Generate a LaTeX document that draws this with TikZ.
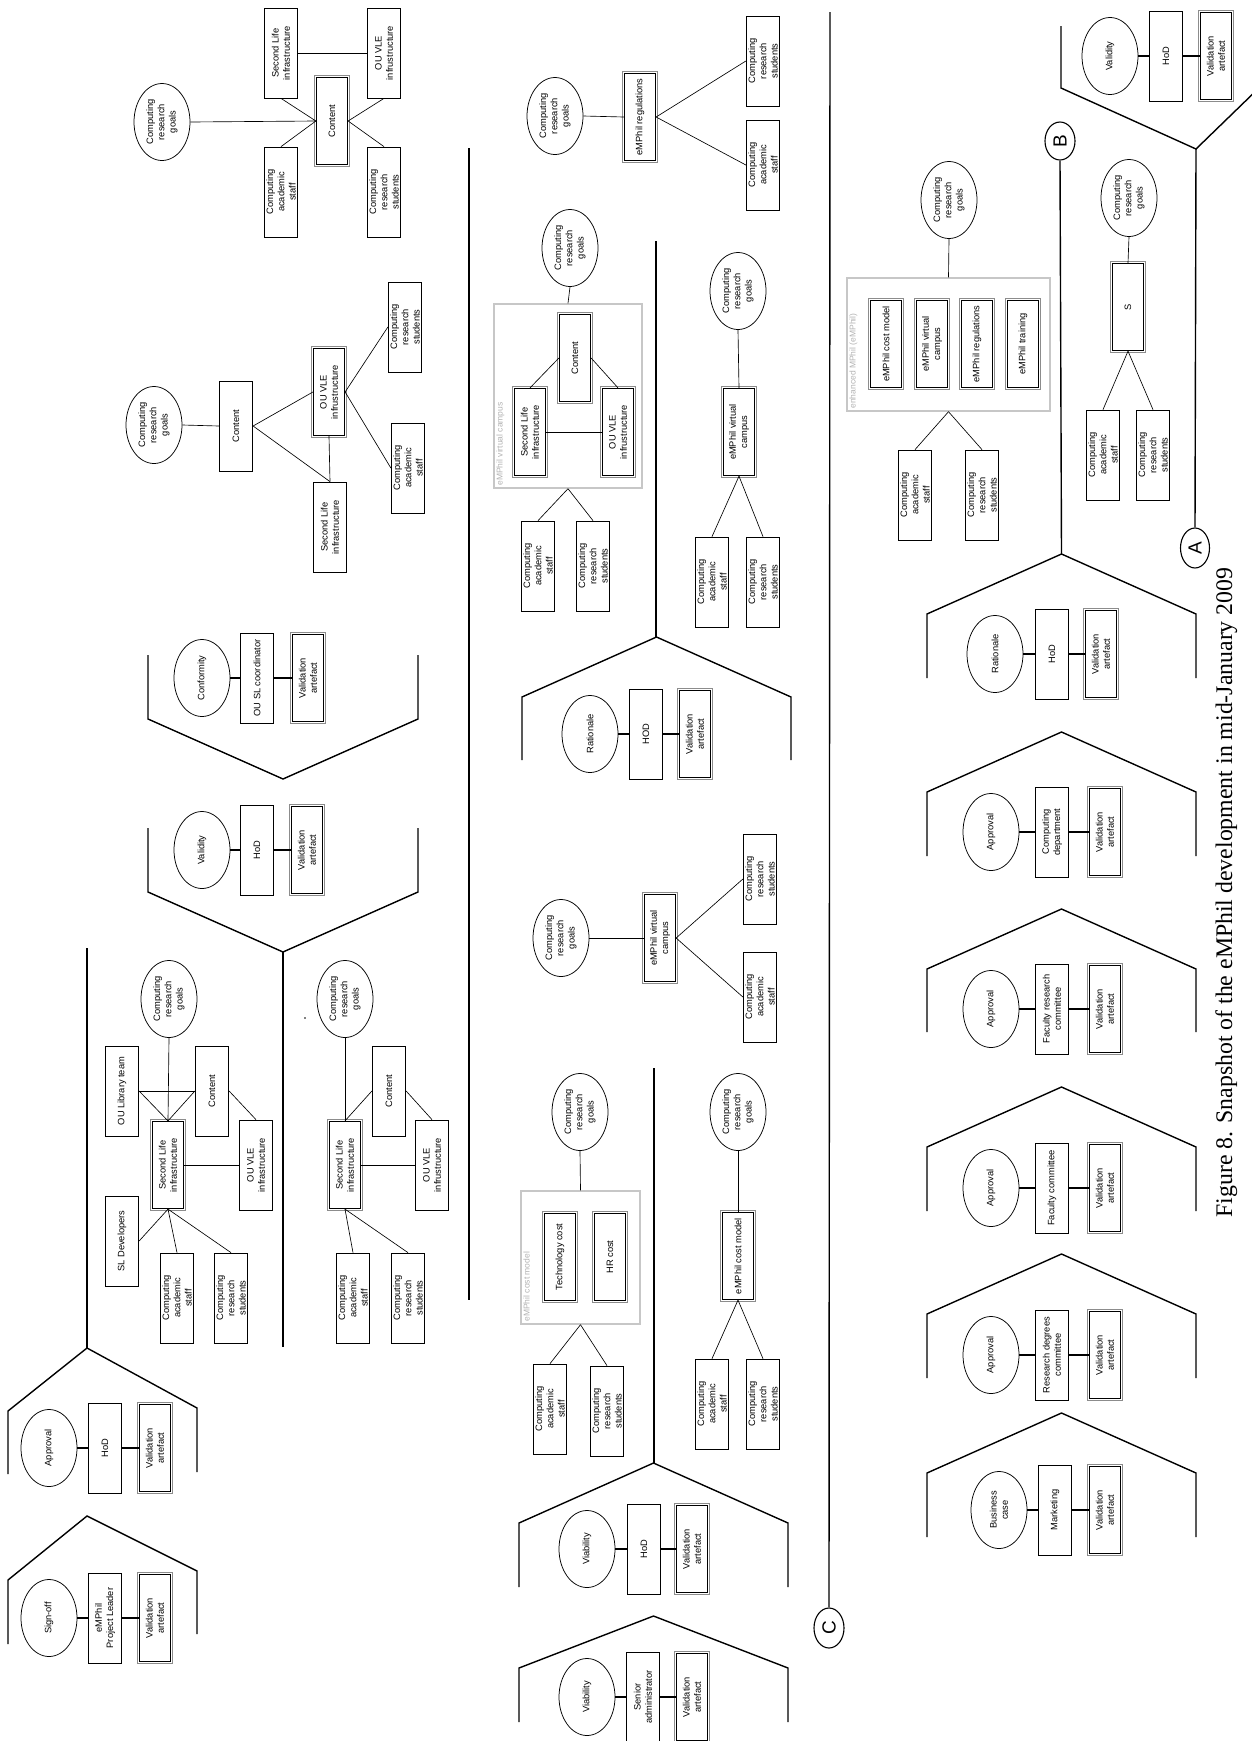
\documentclass[tikz,border=0pt]{standalone}
\usepackage{fontspec}
\setmainfont{Liberation Sans}
\newfontfamily\capfont{Liberation Serif}
\usetikzlibrary{shapes.geometric}
\tikzset{
  lbl/.style={rotate=90, align=center, inner sep=0.5pt, font=\fontsize{9.3}{11.2}\selectfont},
  box/.style={lbl, draw, line width=0.75pt, fill=white, minimum width=90pt, minimum height=33.5pt},
  dbox/.style={lbl, draw, line width=0.75pt, fill=white, minimum width=87.5pt, minimum height=31.5pt,
     preaction={draw=black!45, line width=4.2pt}, preaction={draw=white, line width=3pt}},
  ell/.style={lbl, ellipse, draw, line width=0.75pt, fill=white, minimum width=77pt, minimum height=56pt, inner sep=0pt},
  grp/.style={rotate=90, draw=black!22, line width=1.4pt, inner sep=0pt},
  grplbl/.style={rotate=90, anchor=north west, inner sep=3pt, text=black!30, font=\fontsize{8.5}{10}\selectfont},
  link/.style={line width=0.65pt},
  vlink/.style={line width=1.1pt},
  thk/.style={line width=1.4pt},
  conn/.style={rotate=90, ellipse, draw, line width=1.1pt, fill=white, inner sep=0pt, font=\fontsize{19}{19}\selectfont},
}
\newcommand\vtriple[7]{%
  \node[ell] (#1e) at (#3,#2) {#6};
  \node[box] (#1b) at (#4,#2) {#7};
  \node[dbox] (#1v) at (#5,#2) {Validation\\artefact};
  \draw[vlink] (#1e.south) -- (#1b.north) (#1b.south) -- (#1v.north);
}
\newcommand\chevron[5]{% apex x, apex y, half width, dy, arm
  \draw[thk] ({#1-#3},{#2+#4+#5}) -- ({#1-#3},{#2+#4}) -- (#1,#2) -- ({#1+#3},{#2+#4}) -- ({#1+#3},{#2+#4+#5});
}
\begin{document}
\begin{tikzpicture}[x=1pt,y=-1pt]
\useasboundingbox (0,0) rectangle (1252,1741);

% ================= column 1 =================
% G1
\node[ell] (gAgoal) at (162,122) {Computing\\research\\goals};
\node[dbox] (gAcont) at (332,121) {Content};
\node[box] (gAsl) at (281,53) {Second Life\\infrastructure};
\node[box] (gAou) at (384,53) {OU VLE\\infrustructure};
\node[box] (gAstaff) at (281,192) {Computing\\academic\\staff};
\node[box] (gAstud) at (384,192) {Computing\\research\\students};
\draw[link] (gAgoal.south) -- (gAcont.north);
\draw[link] (gAcont.north) -- (gAsl.west);
\draw[link] (gAcont.north) -- (gAstaff.east);
\draw[link] (gAcont.south) -- (gAou.west);
\draw[link] (gAcont.south) -- (gAstud.east);
\draw[link] (gAsl.south) -- (gAou.north);

% G2
\node[ell] (gBgoal) at (154,425) {Computing\\research\\goals};
\node[box] (gBcont) at (236,426) {Content};
\node[dbox] (gBou) at (329,392) {OU VLE\\infrustructure};
\node[box] (gBsl) at (330,527) {Second Life\\infrastructure};
\node[box] (gBstud) at (405,327) {Computing\\research\\students};
\node[box] (gBstaff) at (408,468) {Computing\\academic\\staff};
\draw[link] (gBgoal.south) -- (gBcont.north);
\draw[link] (gBcont.south) -- (gBou.north);
\draw[link] (gBcont.south) -- (gBsl.east);
\draw[link] (gBou.west) -- (gBsl.east);
\draw[link] (gBou.south) -- (gBstud.north);
\draw[link] (gBou.south) -- (gBstaff.north);

% Conformity / Validity (pointing down)
\draw[thk] (148,655) -- (148,719) -- (283,779) -- (418,719) -- (418,655);
\vtriple{conf}{678}{202}{257}{308}{Conformity}{OU SL coordinator}
\draw[thk] (148,828) -- (148,892) -- (283,952) -- (418,892) -- (418,828);
\vtriple{valA}{850}{202}{257}{307}{Validity}{HoD}
\draw[thk] (283,952) -- (283,1347);
\draw[thk] (87,948) -- (87,1348);

% G3
\node[ell] (gCgoal) at (169,999) {Computing\\research\\goals};
\node[box] (gClib) at (122,1091) {OU Library team};
\node[box] (gCcont) at (212,1091) {Content};
\node[dbox] (gCsl) at (168,1165) {Second Life\\infrastructure};
\node[box] (gCou) at (256,1165) {OU VLE\\infrastructure};
\node[box] (gCdev) at (122,1241) {SL Developers};
\node[box] (gCstaff) at (177,1298) {Computing\\academic\\staff};
\node[box] (gCstud) at (231,1298) {Computing\\research\\students};
\draw[link] (gCgoal.west) -- (gCsl.east);
\draw[link] (gClib.south) -- (gCcont.north);
\draw[link] (gClib.south) -- (gCsl.east);
\draw[link] (gCcont.north) -- (gCsl.east);
\draw[link] (gCcont.south) -- (gCou.east);
\draw[link] (gCsl.south) -- (gCou.north);
\draw[link] (gCsl.west) -- (gCdev.south);
\draw[link] (gCsl.west) -- (gCstaff.east);
\draw[link] (gCsl.west) -- (gCstud.east);

% G4
\node[ell] (gDgoal) at (345,999) {Computing\\research\\goals};
\fill (305,1018) circle (0.8);
\node[box] (gDcont) at (389,1091) {Content};
\node[dbox] (gDsl) at (345,1165) {Second Life\\infrastructure};
\node[box] (gDou) at (432,1165) {OU VLE\\infrustructure};
\node[box] (gDstaff) at (353,1298) {Computing\\academic\\staff};
\node[box] (gDstud) at (408,1298) {Computing\\research\\students};
\draw[link] (gDgoal.west) -- (gDsl.east);
\draw[link] (gDsl.east) -- (gDcont.north);
\draw[link] (gDcont.south) -- (gDou.east);
\draw[link] (gDsl.south) -- (gDou.north);
\draw[link] (gDsl.west) -- (gDstaff.east);
\draw[link] (gDsl.west) -- (gDstud.east);

% Approval / Sign-off (pointing up)
\draw[thk] (8,1474) -- (8,1411) -- (87,1348) -- (197,1408) -- (197,1472);
\vtriple{appA}{1448}{49}{105}{155}{Approval}{HoD}
\draw[thk] (8,1644) -- (8,1580) -- (87,1516) -- (197,1571) -- (197,1634);
\vtriple{sign}{1618}{49}{105}{155}{Sign-off}{eMPhil\\Project Leader}

% ================= column 2 =================
\draw[thk] (469,148) -- (469,1300);

% G5
\node[ell] (gEgoal) at (555,116) {Computing\\research\\goals};
\node[dbox] (gEreg) at (640,117) {eMPhil regulations};
\node[box] (gEstud) at (763,61) {Computing\\research\\students};
\node[box] (gEstaff) at (763,165) {Computing\\academic\\staff};
\draw[link] (gEgoal.south) -- (gEreg.north);
\draw[link] (gEreg.south) -- (gEstud.north);
\draw[link] (gEreg.south) -- (gEstaff.north);

\draw[thk] (656,241) -- (656,637);

% G6
\node[ell] (gFgoal) at (570,248) {Computing\\research\\goals};
\node[grp, minimum width=184pt, minimum height=148pt] (gFgrp) at (568,396) {};
\node[grplbl] (gFlbl) at (gFgrp.north west) {eMPhil virtual campus};
\node[dbox] (gFcont) at (575,358) {Content};
\node[dbox] (gFsl) at (530,432) {Second Life\\infrastructure};
\node[dbox] (gFou) at (618,432) {OU VLE\\infrustructure};
\node[box] (gFstaff) at (538,566) {Computing\\academic\\staff};
\node[box] (gFstud) at (593,566) {Computing\\research\\students};
\draw[link] (gFgoal.west) -- (gFgrp.east);
\draw[link] (gFcont.north) -- (gFsl.east);
\draw[link] (gFcont.south) -- (gFou.east);
\draw[link] (gFsl.south) -- (gFou.north);
\draw[link] (gFgrp.west) -- (gFstaff.east);
\draw[link] (gFgrp.west) -- (gFstud.east);

% G7
\node[ell] (gGgoal) at (738,291) {Computing\\research\\goals};
\node[dbox] (gGvc) at (739,432) {eMPhil virtual\\campus};
\node[box] (gGstaff) at (712,582) {Computing\\academic\\staff};
\node[box] (gGstud) at (763,582) {Computing\\research\\students};
\draw[link] (gGgoal.west) -- (gGvc.east);
\draw[link] (gGvc.west) -- (gGstaff.east);
\draw[link] (gGvc.west) -- (gGstud.east);

\chevron{656.5}{637}{134.5}{60}{63}
\vtriple{ratA}{734}{590}{646}{695}{Rationale}{HOD}

% G8
\node[ell] (gHgoal) at (561,938) {Computing\\research\\goals};
\node[dbox] (gHvc) at (660,938) {eMPhil virtual\\campus};
\node[box] (gHstud) at (760,879) {Computing\\research\\students};
\node[box] (gHstaff) at (760,997) {Computing\\academic\\staff};
\draw[link] (gHgoal.south) -- (gHvc.north);
\draw[link] (gHvc.south) -- (gHstud.north);
\draw[link] (gHvc.south) -- (gHstaff.north);

\draw[thk] (654,1068) -- (654,1463);

% G9
\node[ell] (gIgoal) at (580,1112) {Computing\\research\\goals};
\node[grp, minimum width=133pt, minimum height=119pt] (gIgrp) at (580.5,1257.5) {};
\node[grplbl] (gIlbl) at (gIgrp.north west) {eMPhil cost model};
\node[dbox] (gItech) at (560,1257) {Technology cost};
\node[dbox] (gIhr) at (610,1257) {HR cost};
\node[box] (gIstaff) at (550,1409) {Computing\\academic\\staff};
\node[box] (gIstud) at (607,1411) {Computing\\research\\students};
\draw[link] (gIgoal.west) -- (gIgrp.east);
\draw[link] (gIgrp.west) -- (gIstaff.east);
\draw[link] (gIgrp.west) -- (gIstud.east);

% G10
\node[ell] (gJgoal) at (738,1112) {Computing\\research\\goals};
\node[dbox] (gJcm) at (738,1256) {eMPhil cost model};
\node[box] (gJstaff) at (712,1404) {Computing\\academic\\staff};
\node[box] (gJstud) at (763,1404) {Computing\\research\\students};
\draw[link] (gJgoal.west) -- (gJcm.east);
\draw[link] (gJcm.west) -- (gJstaff.east);
\draw[link] (gJcm.west) -- (gJstud.east);

\chevron{653.5}{1463}{134.5}{60}{64}
\vtriple{viaA}{1549}{587}{644}{692}{Viability}{HoD}
\chevron{653.5}{1616}{134.5}{52}{54}
\vtriple{viaB}{1697}{587}{643}{692}{Viability}{Senior\\administrator}

% connector C and long line
\node[conn, minimum width=40pt, minimum height=30pt] (C) at (829,1628) {C};
\coordinate (ctop) at (830,12);
\draw[thk] (ctop) -- (C.east);

% ================= column 3 =================
% top right Validity
\draw[thk] (1061,26) -- (1061,88) -- (1196,149) -- (1262,85);
\vtriple{valB}{56}{1110}{1166}{1216}{Validity}{HoD}
\node[conn, minimum width=40pt, minimum height=29pt] (A) at (1195,548) {A};
\coordinate (atop) at (1196,149);
\draw[thk] (atop) -- (A.east);

\node[conn, minimum width=38pt, minimum height=30pt] (B) at (1060,141) {B};
\coordinate (bend) at (1061.5,554);
\draw[thk] (B.west) -- (bend);

% G11
\node[ell] (gKgoal) at (949,200) {Computing\\research\\goals};
\node[grp, minimum width=133pt, minimum height=203pt] (gKgrp) at (948.5,344.5) {};
\node[grplbl] (gKlbl) at (gKgrp.north west) {enhanced MPhil (eMPhil)};
\node[dbox] (gKcm) at (886,344) {eMPhil cost  model};
\node[dbox] (gKvc) at (932,344) {eMPhil virtual\\campus};
\node[dbox] (gKreg) at (977,344) {eMPhil regulations};
\node[dbox] (gKtr) at (1023,344) {eMPhil training};
\node[box] (gKstaff) at (915,495) {Computing\\academic\\staff};
\node[box] (gKstud) at (982,495) {Computing\\research\\students};
\draw[link] (gKgoal.west) -- (gKgrp.east);
\draw[link] (gKgrp.west) -- (gKstaff.east);
\draw[link] (gKgrp.west) -- (gKstud.east);

% G12
\node[ell] (gLgoal) at (1129,198) {Computing\\research\\goals};
\node[dbox] (gLs) at (1128,307) {S};
\node[box] (gLstaff) at (1103,455) {Computing\\academic\\staff};
\node[box] (gLstud) at (1153,455) {Computing\\research\\students};
\draw[link] (gLgoal.west) -- (gLs.east);
\draw[link] (gLs.west) -- (gLstaff.east);
\draw[link] (gLs.west) -- (gLstud.east);

% chevrons column 3
\chevron{1061.5}{554}{134.5}{60}{64}
\vtriple{ratB}{654}{995}{1052}{1101}{Rationale}{HoD}
\chevron{1061.5}{732}{134.5}{60}{64}
\vtriple{apCD}{832}{991}{1052}{1105}{Approval}{Computing\\department}
\chevron{1061.5}{909}{134.5}{60}{63}
\vtriple{apFR}{1009}{991}{1052}{1105}{Approval}{Faculty research\\committee}
\chevron{1061.5}{1087}{134.5}{60}{64}
\vtriple{apFC}{1188}{991}{1052}{1105}{Approval}{Faculty committee}
\chevron{1061.5}{1254}{134.5}{60}{64}
\vtriple{apRD}{1355}{991}{1052}{1105}{Approval}{Research degrees\\committee}
\chevron{1061.5}{1413}{134.5}{60}{64}
\vtriple{bus}{1510}{999}{1055}{1105}{Business\\case}{Marketing}

% caption
\node[rotate=90, anchor=base, inner sep=0pt, font=\capfont\fontsize{23.8}{24}\selectfont] (cap) at (1232,892.5) {Figure 8. Snapshot of the eMPhil development in mid-January 2009};
\end{tikzpicture}
\end{document}
